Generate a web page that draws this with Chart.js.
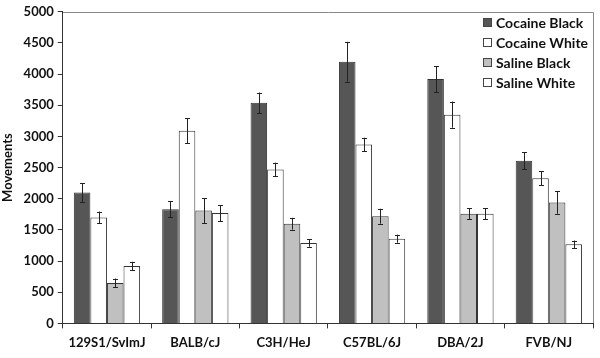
<!DOCTYPE html>
<html><head><meta charset="utf-8">
<script src="https://cdn.jsdelivr.net/npm/chart.js@4/dist/chart.umd.min.js"></script>
<style>html,body{margin:0;padding:0;background:#fff}#wrap{width:600px;height:358px}</style>
</head><body><div id="wrap"><canvas id="c" width="600" height="358"></canvas></div>
<script>
const strains = ["129S1/SvImJ","BALB/cJ","C3H/HeJ","C57BL/6J","DBA/2J","FVB/NJ"];
const cocaineBlack = [2100,1830,3540,4200,3920,2610];
const cocaineBlackErr = [150,130,165,320,210,140];
const cocaineWhite = [1700,3090,2470,2870,3350,2330];
const cocaineWhiteErr = [95,200,110,110,210,110];
const salineBlack = [650,1810,1600,1720,1760,1940];
const salineBlackErr = [70,200,95,120,90,180];
const salineWhite = [920,1770,1290,1360,1760,1270];
const salineWhiteErr = [70,130,60,65,90,60];
const yTicks = [0,500,1000,1500,2000,2500,3000,3500,4000,4500,5000];

const FONT = "Lato, 'Open Sans', sans-serif";
const errs = [cocaineBlackErr, cocaineWhiteErr, salineBlackErr, salineWhiteErr];

const errorBars = {
  id:'errorBars',
  afterDatasetsDraw(chart){
    const ctx = chart.ctx, y = chart.scales.y;
    ctx.save();
    ctx.strokeStyle = '#222'; ctx.lineWidth = 1;
    chart.data.datasets.forEach((ds, di) => {
      const meta = chart.getDatasetMeta(di);
      meta.data.forEach((bar, i) => {
        const v = ds.data[i], e = errs[di][i];
        const x = Math.round(bar.x) + 0.5;
        const yt = y.getPixelForValue(v + e), yb = y.getPixelForValue(v - e);
        ctx.beginPath();
        ctx.moveTo(x, yt); ctx.lineTo(x, yb);
        ctx.moveTo(x-2.5, Math.round(yt)+0.5); ctx.lineTo(x+2.5, Math.round(yt)+0.5);
        ctx.moveTo(x-2.5, Math.round(yb)+0.5); ctx.lineTo(x+2.5, Math.round(yb)+0.5);
        ctx.stroke();
      });
    });
    ctx.restore();
  }
};

const frame = {
  id:'frame',
  afterDraw(chart){
    const {ctx, chartArea:a} = chart;
    ctx.save();
    ctx.strokeStyle = '#888'; ctx.lineWidth = 1;
    ctx.beginPath();
    ctx.moveTo(Math.round(a.left), Math.round(a.top)+0.5);
    ctx.lineTo(Math.round(a.right)+0.5, Math.round(a.top)+0.5);
    ctx.lineTo(Math.round(a.right)+0.5, Math.round(a.bottom));
    ctx.stroke();
    // legend inside plot
    ctx.font = "bold 14px " + FONT;
    ctx.textBaseline = 'middle';
    chart.data.datasets.forEach((ds, i) => {
      const yy = 23 + i*20;
      ctx.fillStyle = ds.backgroundColor;
      ctx.fillRect(483, yy-5, 9, 9);
      ctx.strokeStyle = '#444';
      ctx.strokeRect(483.5, yy-4.5, 8, 8);
      ctx.fillStyle = '#111';
      ctx.fillText(ds.label, 496, yy);
    });
    ctx.restore();
  }
};

const mk = (label, data, color) => ({
  label, data, backgroundColor: color, borderColor: '#333', borderWidth: 1,
  categoryPercentage: 0.75, barPercentage: 1.0
});

new Chart(document.getElementById('c'), {
  type: 'bar',
  data: {
    labels: strains,
    datasets: [
      mk('Cocaine Black', cocaineBlack, '#565656'),
      mk('Cocaine White', cocaineWhite, '#ffffff'),
      mk('Saline Black', salineBlack, '#c0c0c0'),
      mk('Saline White', salineWhite, '#ffffff')
    ]
  },
  options: {
    responsive: false, animation: false,
    layout: {padding: {top: 10, right: 7, left: 0, bottom: 0}},
    plugins: {legend: {display: false}, tooltip: {enabled: false}},
    scales: {
      x: {
        offset: true,
        grid: {offset: true, drawOnChartArea: false, drawTicks: true, tickLength: 5, color: '#333'},
        border: {color: '#333', width: 1},
        ticks: {color: '#111', font: {family: FONT, size: 13, weight: 'bold'}, padding: 7, maxRotation: 0}
      },
      y: {
        min: 0, max: 5000,
        afterBuildTicks(s){ s.ticks = yTicks.map(v => ({value: v})); },
        grid: {drawOnChartArea: false, drawTicks: true, tickLength: 5, color: '#333'},
        border: {color: '#333', width: 1},
        ticks: {color: '#111', font: {family: FONT, size: 13, weight: 'bold'}, padding: 4, callback: v => String(v)},
        title: {display: true, text: 'Movements', color: '#111', font: {family: FONT, size: 13, weight: 'bold'}, padding: {top: 0, bottom: 4}}
      }
    }
  },
  plugins: [errorBars, frame]
});
</script></body></html>
